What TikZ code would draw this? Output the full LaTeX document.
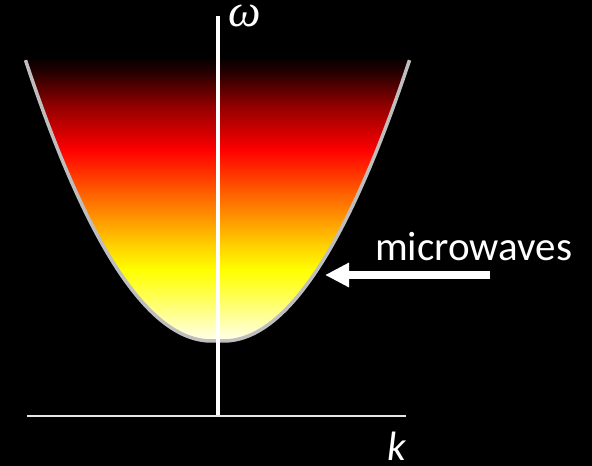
\documentclass[tikz,border=0pt]{standalone}
\usepackage{fontspec}
\usetikzlibrary{arrows.meta}
\newfontfamily\carlito{Carlito}
\newfontfamily\serifit{Liberation Serif}
\definecolor{gA}{HTML}{200000}
\definecolor{gB}{HTML}{900000}
\definecolor{gC}{HTML}{FF0000}
\definecolor{gD}{HTML}{FF5A00}
\definecolor{gE}{HTML}{FF9A00}
\definecolor{gF}{HTML}{FFD000}
\definecolor{gG}{HTML}{FFFF00}
\definecolor{gH}{HTML}{FFFF60}
\definecolor{gI}{HTML}{FFFFFF}
\definecolor{edgegray}{HTML}{BEBEBE}
\definecolor{axisgray}{HTML}{E6E6E6}
\begin{document}
\begin{tikzpicture}[x=1pt,y=1pt,
  band/.style={draw=none},
  curveline/.style={draw=edgegray,line width=3.5pt},
  vaxis/.style={draw=white,line width=4pt},
  haxis/.style={draw=axisgray,line width=2pt},
  lbl/.style={text=white,inner sep=0pt},
  wavearrow/.style={draw=white,line width=8pt,-{Triangle[length=24pt,width=23pt]}}]
\fill[black] (0,0) rectangle (592,466);
\useasboundingbox (0,0) rectangle (592,466);
\begin{scope}
\clip plot[domain=-16.76:0,samples=80] ({211.5+11.1*\x},{125+\x*\x}) -- plot[domain=0:16.76,samples=80] ({223.5+11.1*\x},{125+\x*\x}) -- cycle;
\fill[band,top color=black,bottom color=gA] (0,395.5) rectangle (592,412);
\fill[band,top color=gA,bottom color=gB] (0,360.5) rectangle (592,396);
\fill[band,top color=gB,bottom color=gC] (0,315.5) rectangle (592,361);
\fill[band,top color=gC,bottom color=gD] (0,275.5) rectangle (592,316);
\fill[band,top color=gD,bottom color=gE] (0,245.5) rectangle (592,276);
\fill[band,top color=gE,bottom color=gF] (0,220.5) rectangle (592,246);
\fill[band,top color=gF,bottom color=gG] (0,195.5) rectangle (592,221);
\fill[band,top color=gG,bottom color=gH] (0,165.5) rectangle (592,196);
\fill[band,top color=gH,bottom color=gI] (0,120) rectangle (592,166);
\end{scope}
\draw[curveline] plot[domain=-16.76:0,samples=80] ({211.5+11.1*\x},{125+\x*\x}) -- plot[domain=0:16.76,samples=80] ({223.5+11.1*\x},{125+\x*\x});
\coordinate (vtop) at (218,450);
\coordinate (vbot) at (218,49);
\coordinate (hleft) at (27,49.5);
\coordinate (hright) at (406,49.5);
\draw[vaxis] (vtop) -- (vbot);
\draw[haxis] (hleft) -- (hright);
\node[lbl,anchor=base,text height=21pt,text depth=0pt,font=\serifit\itshape\fontsize{46}{46}\selectfont] (omega) at (245,439) {ω};
\node[lbl,anchor=base,text height=28pt,text depth=0pt,font=\carlito\itshape\fontsize{41}{41}\selectfont] (k) at (397,5) {k};
\node[lbl,anchor=base west,font=\carlito\fontsize{41}{41}\selectfont] (mw) at (375,205) {microwaves};
\coordinate (arrstart) at (490,191);
\coordinate (arrtip) at (325,191);
\draw[wavearrow] (arrstart) -- (arrtip);
\end{tikzpicture}
\end{document}
